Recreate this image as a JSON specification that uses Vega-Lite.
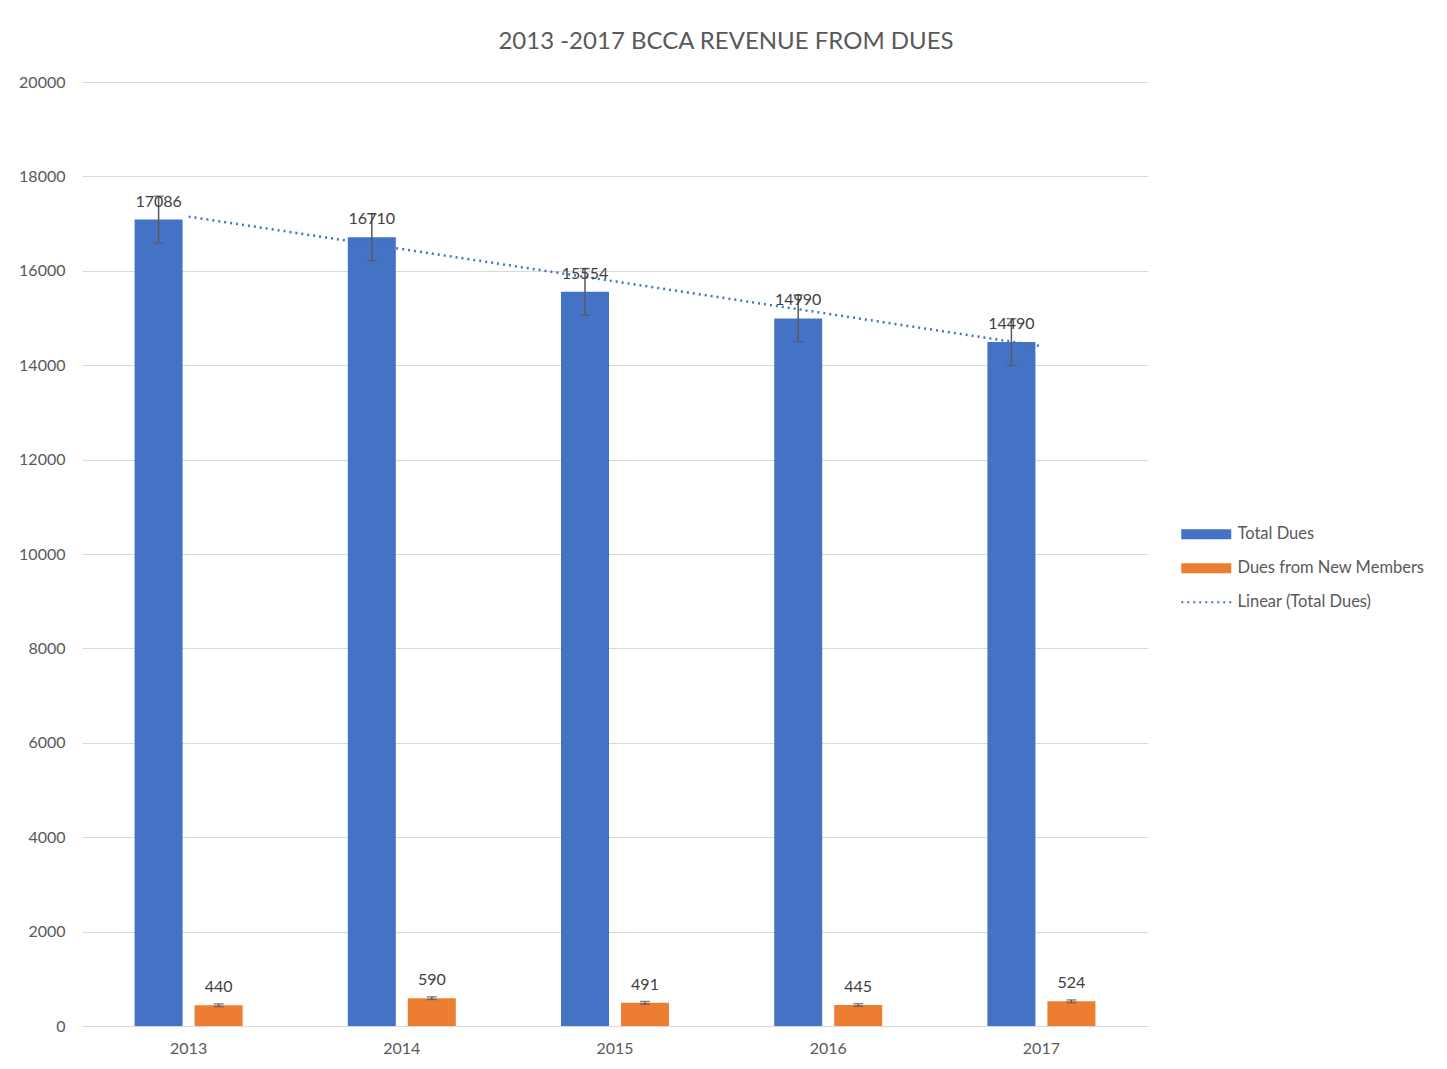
{
  "$schema": "https://vega.github.io/schema/vega-lite/v6.json",
  "autosize": {"type": "none"},
  "width": 1066,
  "height": 944,
  "padding": {"left": 82, "top": 82, "right": 299, "bottom": 43},
  "background": "white",
  "title": {
    "text": "2013 -2017 BCCA REVENUE FROM DUES",
    "font": "Lato",
    "fontSize": 24,
    "fontWeight": "normal",
    "color": "#595959",
    "anchor": "middle",
    "frame": "group",
    "dx": 111,
    "offset": 20
  },
  "datasets": {
    "bars": [
      {"year": "2013", "series": "Total Dues", "value": 17086, "lo": 16591, "hi": 17581},
      {"year": "2013", "series": "Dues from New Members", "value": 440, "lo": 412, "hi": 468},
      {"year": "2014", "series": "Total Dues", "value": 16710, "lo": 16215, "hi": 17205},
      {"year": "2014", "series": "Dues from New Members", "value": 590, "lo": 562, "hi": 618},
      {"year": "2015", "series": "Total Dues", "value": 15554, "lo": 15059, "hi": 16049},
      {"year": "2015", "series": "Dues from New Members", "value": 491, "lo": 463, "hi": 519},
      {"year": "2016", "series": "Total Dues", "value": 14990, "lo": 14495, "hi": 15485},
      {"year": "2016", "series": "Dues from New Members", "value": 445, "lo": 417, "hi": 473},
      {"year": "2017", "series": "Total Dues", "value": 14490, "lo": 13995, "hi": 14985},
      {"year": "2017", "series": "Dues from New Members", "value": 524, "lo": 496, "hi": 552}
    ],
    "trend": [
      {"year": "2013", "series": "Linear (Total Dues)", "value": 17148},
      {"year": "2017", "series": "Linear (Total Dues)", "value": 14402}
    ]
  },
  "config": {
    "view": {"stroke": null},
    "font": "Lato",
    "axis": {
      "labelFont": "Lato",
      "labelFontSize": 16,
      "labelColor": "#595959",
      "gridColor": "#D9D9D9",
      "domainColor": "#D9D9D9",
      "ticks": false,
      "title": null
    },
    "legend": {
      "labelFont": "Lato",
      "labelFontSize": 16.5,
      "labelColor": "#595959",
      "labelLimit": 400
    }
  },
  "encoding": {
    "x": {
      "field": "year",
      "type": "nominal",
      "scale": {"paddingInner": 0.4934, "paddingOuter": 0.2467},
      "axis": {"labelAngle": 0, "labelPadding": 14, "grid": false, "domain": true, "domainWidth": 1}
    },
    "y": {
      "field": "value",
      "type": "quantitative",
      "scale": {"domain": [0, 20000], "nice": false},
      "axis": {"values": [0, 2000, 4000, 6000, 8000, 10000, 12000, 14000, 16000, 18000, 20000], "format": "d", "domain": false, "grid": true, "labelPadding": 17}
    }
  },
  "layer": [
    {
      "data": {"name": "bars"},
      "mark": {"type": "bar"},
      "encoding": {
        "xOffset": {"field": "series", "type": "nominal", "sort": ["Total Dues", "Dues from New Members"], "scale": {"paddingInner": 0.2, "paddingOuter": 0}},
        "color": {
          "field": "series",
          "type": "nominal",
          "sort": ["Total Dues", "Dues from New Members"],
          "scale": {"domain": ["Total Dues", "Dues from New Members"], "range": ["#4472C4", "#ED7D31"]},
          "legend": {
            "title": null,
            "orient": "none",
            "legendX": 1096,
            "legendY": 444,
            "symbolType": "M-5,-1H5V1H-5Z",
            "symbolSize": 100,
            "symbolStrokeWidth": 0,
            "symbolOffset": 20,
            "labelOffset": 23,
            "rowPadding": 17
          }
        }
      }
    },
    {
      "data": {"name": "bars"},
      "mark": {"type": "rule", "color": "#595959", "strokeWidth": 1.5},
      "encoding": {
        "xOffset": {"field": "series", "type": "nominal", "sort": ["Total Dues", "Dues from New Members"]},
        "y": {"field": "lo", "type": "quantitative"},
        "y2": {"field": "hi"}
      }
    },
    {
      "data": {"name": "bars"},
      "mark": {"type": "tick", "color": "#595959", "thickness": 1.5, "size": 10},
      "encoding": {
        "xOffset": {"field": "series", "type": "nominal", "sort": ["Total Dues", "Dues from New Members"]},
        "y": {"field": "lo", "type": "quantitative"}
      }
    },
    {
      "data": {"name": "bars"},
      "mark": {"type": "tick", "color": "#595959", "thickness": 1.5, "size": 10},
      "encoding": {
        "xOffset": {"field": "series", "type": "nominal", "sort": ["Total Dues", "Dues from New Members"]},
        "y": {"field": "hi", "type": "quantitative"}
      }
    },
    {
      "data": {"name": "trend"},
      "mark": {"type": "line", "color": "#4472C4", "strokeWidth": 2.5},
      "encoding": {
        "strokeDash": {
          "field": "series",
          "type": "nominal",
          "scale": {"domain": ["Linear (Total Dues)"], "range": [[2, 4]]},
          "legend": {
            "title": null,
            "orient": "none",
            "legendX": 1096,
            "legendY": 512,
            "symbolType": "M-5,0H5",
            "symbolSize": 100,
            "symbolStrokeColor": "#4472C4",
            "symbolFillColor": "transparent",
            "symbolStrokeWidth": 2,
            "symbolOffset": 20,
            "labelOffset": 23
          }
        }
      }
    },
    {
      "data": {"name": "bars"},
      "mark": {"type": "text", "baseline": "bottom", "dy": -10, "fontSize": 16, "color": "#404040", "font": "Lato"},
      "encoding": {
        "xOffset": {"field": "series", "type": "nominal", "sort": ["Total Dues", "Dues from New Members"]},
        "text": {"field": "value", "type": "quantitative", "format": "d"}
      }
    }
  ]
}
